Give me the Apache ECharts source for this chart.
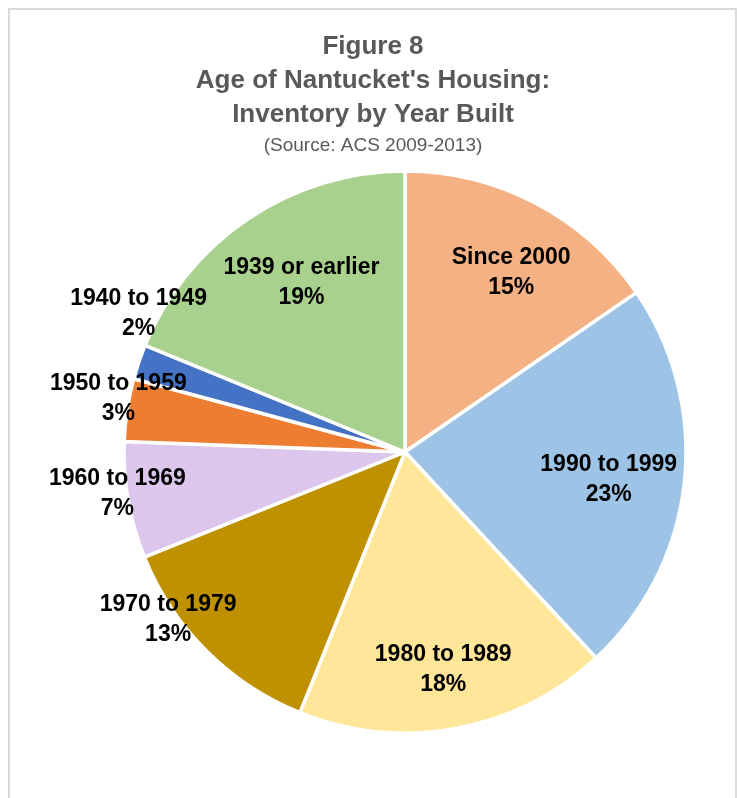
<!DOCTYPE html>
<html>
<head>
<meta charset="utf-8">
<title>Figure 8</title>
<script src="https://cdn.jsdelivr.net/npm/echarts@6/dist/echarts.min.js"></script>
<style>
body { margin: 0; overflow: hidden; background: #fff; }
#main { position: absolute; left: 0; top: 0; width: 746px; height: 798px; }
#frame { position: absolute; left: 8px; top: 8px; width: 725px; height: 900px; border: 2px solid #d9d9d9; pointer-events: none; }
</style>
</head>
<body>
<div id="main"></div>
<div id="frame"></div>
<script type="text/javascript">
	// slices, clockwise from 12 o'clock
	var periods = ['Since 2000', '1990 to 1999', '1980 to 1989', '1970 to 1979', '1960 to 1969', '1950 to 1959', '1940 to 1949', '1939 or earlier'];
	var shares = [15.4, 22.7, 18.0, 12.8, 6.7, 3.6, 2.0, 18.8];
	var pctLabels = [15, 23, 18, 13, 7, 3, 2, 19];

	var colors = ['#F4B183', '#9DC3E6', '#FFE699', '#BF9000', '#DCC6EC', '#ED7D31', '#4472C4', '#A9D18E'];
	var font = "'Liberation Sans', Arial, sans-serif";
	var center = [405, 452];

	// labels of small slices sit outside the pie
	var outerIdx = [3, 4, 5, 6];
	var nudge = {
		0: [8, 7], 1: [-6, 5], 2: [0, 10], 7: [14, 6],
		3: [-29, -40], 4: [2, -9], 5: [4, -9], 6: [12, -44]
	};

	// transparent pie that only carries the labels
	function labelPie(radius, outside) {
		return {
			type: 'pie',
			center: center,
			radius: radius,
			startAngle: 90,
			clockwise: true,
			silent: true,
			avoidLabelOverlap: false,
			itemStyle: { color: 'rgba(0,0,0,0)', borderWidth: 0 },
			label: {
				show: true,
				position: 'inside',
				formatter: function (p) { return p.name + '\n' + pctLabels[p.dataIndex] + '%'; },
				fontFamily: font,
				fontWeight: 'bold',
				fontSize: 23,
				lineHeight: 30,
				color: '#000',
				textBorderWidth: 0
			},
			labelLine: { show: false },
			labelLayout: function (p) {
				var d = nudge[p.dataIndex];
				return d ? { dx: d[0], dy: d[1] } : {};
			},
			data: periods.map(function (n, i) {
				var isOuter = outerIdx.indexOf(i) >= 0;
				return { name: n, value: shares[i], label: { show: outside ? isOuter : !isOuter } };
			})
		};
	}

	var option = {
		animation: false,
		title: {
			text: "Figure 8\nAge of Nantucket's Housing:\nInventory by Year Built",
			subtext: '(Source: ACS 2009-2013)',
			left: 'center',
			top: 25,
			itemGap: 4,
			textStyle: { fontFamily: font, fontSize: 26, fontWeight: 'bold', color: '#595959', lineHeight: 34 },
			subtextStyle: { fontFamily: font, fontSize: 19, color: '#595959', lineHeight: 20 }
		},
		color: colors,
		series: [{
			type: 'pie',
			center: center,
			radius: 281,
			startAngle: 90,
			clockwise: true,
			silent: true,
			label: { show: false },
			labelLine: { show: false },
			itemStyle: { borderColor: '#fff', borderWidth: 3.5 },
			data: periods.map(function (n, i) { return { name: n, value: shares[i] }; })
		},
		labelPie(416, false),
		labelPie(582, true)
		]
	};

	var chart = echarts.init(document.getElementById('main'));
	chart.setOption(option);
</script>
</body>
</html>
